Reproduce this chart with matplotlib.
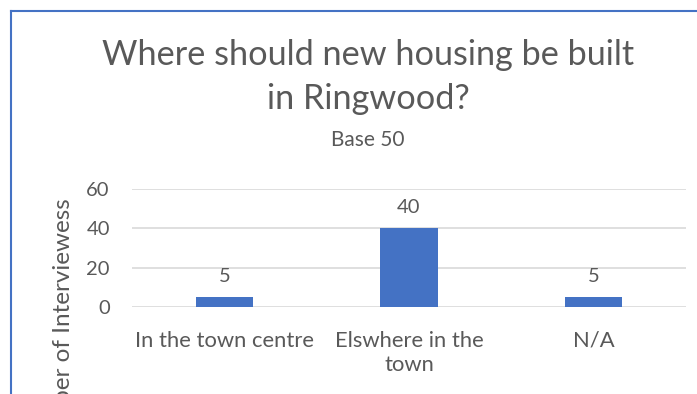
import matplotlib
matplotlib.use("Agg")
import matplotlib.pyplot as plt
from matplotlib.lines import Line2D

plt.rcParams['font.family'] = ['Lato', 'DejaVu Sans']

categories = ["In the town centre", "Elswhere in the\ntown", "N/A"]
values = [5, 40, 5]
yticks = [0, 20, 40, 60]

TEXT = "#595959"
BAR = "#4472C4"
GRID = "#D9D9D9"

W, H = 697, 394
fig = plt.figure(figsize=(W / 100, H / 100), dpi=100)
fig.patch.set_facecolor("white")

def fx(px):
    return px / W

def fy(py):
    return 1 - py / H

ax = fig.add_axes([fx(132), fy(307), fx(686) - fx(132), fy(189) - fy(307)])
x = list(range(len(categories)))
bars = ax.bar(x, values, width=0.31, color=BAR, zorder=3)
ax.set_xlim(-0.5, len(categories) - 0.5)
ax.set_ylim(0, 60)
ax.set_yticks(yticks)
ax.set_yticklabels([str(t) for t in yticks])
ax.set_xticks(x)
ax.set_xticklabels(categories, linespacing=1.3)
ax.tick_params(axis="both", length=0, labelcolor=TEXT)
ax.tick_params(axis="y", pad=16, labelsize=14.5)
ax.tick_params(axis="x", pad=17, labelsize=15.8)
for s in ax.spines.values():
    s.set_visible(False)
ax.grid(axis="y", color=GRID, linewidth=1.2, zorder=0)
ax.set_axisbelow(True)

for xi, v in zip(x, values):
    ax.annotate(str(v), (xi, v), xytext=(0, 9), textcoords="offset points",
                ha="center", va="bottom", fontsize=14.5, color=TEXT)

fig.text(fx(368), fy(65), "Where should new housing be built",
         ha="center", va="baseline", fontsize=24.7, color=TEXT)
fig.text(fx(368), fy(109), "in Ringwood?",
         ha="center", va="baseline", fontsize=24.7, color=TEXT)
fig.text(fx(368), fy(146), "Base 50", ha="center", va="baseline",
         fontsize=15, color=TEXT)

fig.text(fx(64), fy(198), "Number of Interviewess", rotation=90,
         ha="center", va="top", fontsize=17.5, color=TEXT)

# chart frame edges
fig.add_artist(Line2D([fx(11), fx(11)], [fy(11), -0.1], color=BAR, linewidth=1.5))
fig.add_artist(Line2D([fx(11), 1.1], [fy(11), fy(11)], color=BAR, linewidth=1.5))

fig.savefig("out.png", dpi=100)
